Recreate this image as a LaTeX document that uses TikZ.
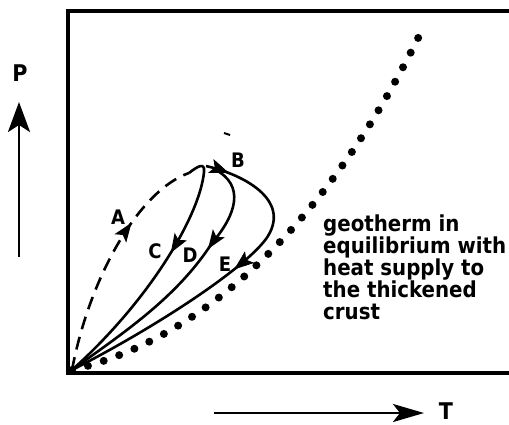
\documentclass[tikz,border=0pt]{standalone}
\usepackage{fontspec}
\newfontfamily\labfont{DejaVu Sans Condensed Bold}
\usetikzlibrary{arrows.meta,decorations.markings}
\begin{document}
\begin{tikzpicture}[x=1pt,y=-1pt,
  frame/.style={line width=3.4pt},
  curve/.style={line width=2.6pt},
  axisarrow/.style={line width=2.8pt,-{Stealth[length=30pt,width=22pt,inset=7pt]}},
  midarrow/.style={postaction={decorate},decoration={markings,mark=at position #1 with {\arrow{Stealth[length=19pt,width=14pt,inset=4pt]}}}},
  lab/.style={font=\labfont\fontsize{20}{22}\selectfont, inner sep=0pt},
  axlab/.style={font=\labfont\fontsize{23}{24}\selectfont, inner sep=0pt},
  txt/.style={font=\labfont\fontsize{22}{22}\selectfont, inner sep=0pt, align=left},
  dots/.style={line width=8pt, line cap=round, dash pattern=on 0pt off 16.5pt}]
\useasboundingbox (0,0) rectangle (509,424);
% frame
\coordinate (TR) at (509,11);
\coordinate (TL) at (68,11);
\coordinate (BL) at (68,373);
\coordinate (BR) at (509,373);
\draw[frame] (TR) -- (TL) -- (BL) -- (BR);
% key points
\coordinate (O) at (72,370);
\coordinate (Atop) at (189,173);
\coordinate (Ctop) at (204,172);
\coordinate (Dtop) at (214,169);
\coordinate (Dmid) at (212,243);
\coordinate (Etop) at (206,166);
\coordinate (Emid) at (268,236);
\coordinate (Gtop) at (424,26);
% geotherm dots
\draw[dots] (O) .. controls (220,335) and (340,200) .. (Gtop);
% A dashed
\draw[curve, dash pattern=on 13pt off 8pt, midarrow=160pt] (O) .. controls (90,275) and (140,190) .. (Atop);
% C
\draw[curve, midarrow=110pt] (Atop) .. controls (198,166) and (205,162) .. (Ctop) .. controls (200,215) and (150,300) .. (O);
% D
\draw[curve, midarrow=96pt] (Dtop) .. controls (246,185) and (236,215) .. (Dmid) .. controls (176,299) and (120,335) .. (O);
% E
\draw[curve, midarrow=24pt, midarrow=158pt] (Etop) .. controls (245,175) and (290,200) .. (Emid) .. controls (250,265) and (160,325) .. (O);
% stray mark
\draw[line width=2pt] (224,133) -- (230,135);
% labels
\node[lab] (la) at (118,217) {A};
\node[lab] (lb) at (238,160) {B};
\node[lab] (lc) at (155,251) {C};
\node[lab] (ld) at (190,255) {D};
\node[lab] (le) at (225,264) {E};
\node[txt, anchor=north west] (geo) at (323,215) {geotherm in\\equilibrium with\\heat supply to\\the thickened\\crust};
% axes
\coordinate (P0) at (19,257);
\coordinate (P1) at (19,102);
\draw[axisarrow] (P0) -- (P1);
\node[axlab] (lp) at (20,73) {P};
\coordinate (T0) at (214,413);
\coordinate (T1) at (424,413);
\draw[axisarrow, -{Stealth[length=31pt,width=18pt,inset=7pt]}] (T0) -- (T1);
\node[axlab] (lt) at (446,411) {T};
\end{tikzpicture}
\end{document}
